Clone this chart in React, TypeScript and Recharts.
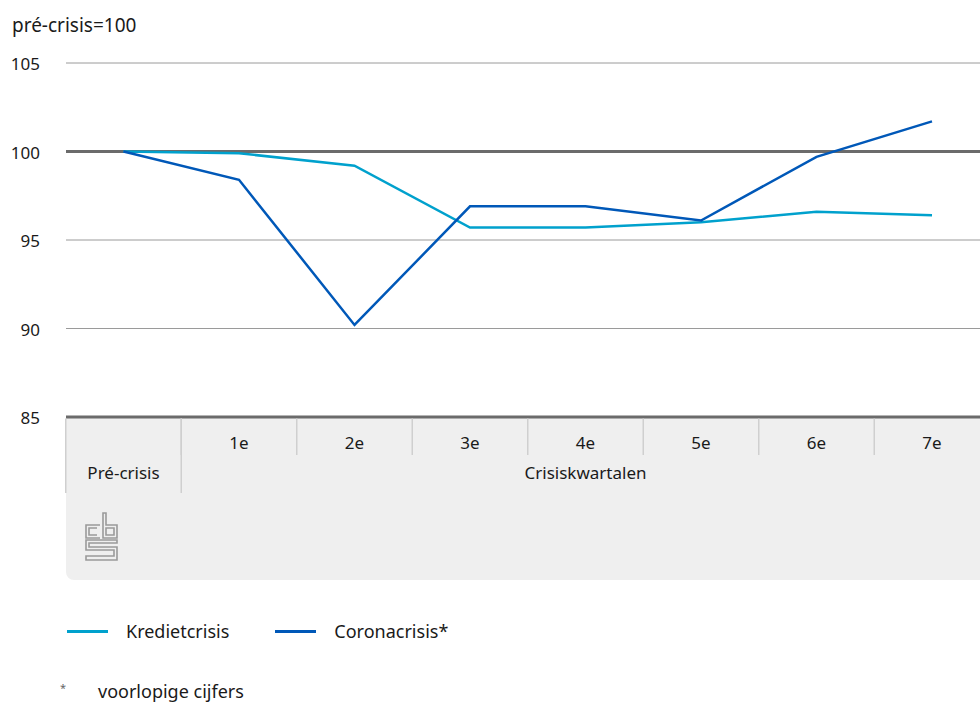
import { LineChart, Line, XAxis, YAxis, CartesianGrid, ReferenceLine } from 'recharts';

const categories = ['Pré-crisis', '1e', '2e', '3e', '4e', '5e', '6e', '7e'];
const groupLabels = ['', 'Crisiskwartalen', 'Crisiskwartalen', 'Crisiskwartalen', 'Crisiskwartalen', 'Crisiskwartalen', 'Crisiskwartalen', 'Crisiskwartalen'];
const kredietcrisis = [100, 99.9, 99.2, 95.7, 95.7, 96.0, 96.6, 96.4];
const coronacrisis = [100, 98.4, 90.2, 96.9, 96.9, 96.1, 99.7, 101.7];
const yTicks = [85, 90, 95, 100, 105];

const seriesNames = ['Kredietcrisis', 'Coronacrisis*'];
const seriesColors = ['#00a1cd', '#0058b8'];

const data = categories.map((c, i) => ({
  name: c,
  group: groupLabels[i],
  krediet: kredietcrisis[i],
  corona: coronacrisis[i],
}));

const FONT = '"Noto Sans", sans-serif';
const TEXT = '#1a1a1a';
const HALF_BAND = 57.75;

function XTick({ x, y, payload, index }: any) {
  const i = index ?? payload.index;
  const group = groupLabels[i];
  const groupIdx = groupLabels.map((g, k) => (g === group ? k : -1)).filter((k) => k >= 0);
  const isGroupMid = group && groupIdx[Math.floor(groupIdx.length / 2)] === i;
  const left = x - HALF_BAND;
  return (
    <g>
      <line x1={left} x2={left} y1={y + 1.5} y2={y + (group ? 38 : 76)} stroke="#cfcfcf" strokeWidth={1.5} />
      {i === 0 && <line x1={x + HALF_BAND} x2={x + HALF_BAND} y1={y + 1.5} y2={y + 76} stroke="#cfcfcf" strokeWidth={1.5} />}
      <text x={x} y={group ? y + 32 : y + 62} textAnchor="middle" fontSize={17} fill={TEXT} fontFamily={FONT}>
        {payload.value}
      </text>
      {isGroupMid && (
        <text x={x} y={y + 62} textAnchor="middle" fontSize={17} fill={TEXT} fontFamily={FONT}>
          {group}
        </text>
      )}
    </g>
  );
}

function YTick({ y, payload }: any) {
  return (
    <text x={40} y={y + 7} textAnchor="end" fontSize={17} fill={TEXT} fontFamily={FONT}>
      {payload.value}
    </text>
  );
}

function CbsLogo() {
  return (
    <svg width={34} height={50} viewBox="0 0 34 50" style={{ position: 'absolute', left: 19, top: 95 }}>
      <g fill="none" stroke="#9a9a9a" strokeWidth={1.6}>
        <path d="M15 13 H1 V26 H15 M12 16 H4 V23 H12" />
        <path d="M18 1 V26 H32 V13 H21 V1 Z M21 16 H29 V23 H21 Z" />
        <path d="M32 28 H1 V38 H29 V44 H1 V48 H32 V35 H4 V31 H32 Z" />
      </g>
    </svg>
  );
}

export default function App() {
  return (
    <div style={{ position: 'absolute', left: 0, top: 0, width: 980, height: 704, overflow: 'hidden', background: '#fff', fontFamily: FONT, color: TEXT }}>
      <div style={{ position: 'absolute', left: 12, top: 12, fontSize: 19 }}>pré-crisis=100</div>

      <div style={{ position: 'absolute', left: 66, top: 417, width: 930, height: 163, background: '#efefef', borderBottomLeftRadius: 8 }}>
        <CbsLogo />
      </div>

      <div style={{ position: 'absolute', left: 0, top: 0 }}>
        <LineChart width={980} height={704} data={data} margin={{ top: 63, right: 0, left: 0, bottom: 0 }}>
          <CartesianGrid vertical={false} stroke="#9a9a9a" strokeWidth={1} />
          <XAxis
            dataKey="name"
            interval={0}
            padding={{ left: 57.5, right: 48 }}
            axisLine={{ stroke: '#6b6b6b', strokeWidth: 3 }}
            tickLine={false}
            tickSize={0}
            tickMargin={0}
            height={287}
            tick={<XTick />}
          />
          <YAxis
            domain={[85, 105]}
            ticks={yTicks}
            width={66}
            axisLine={false}
            tickLine={false}
            tick={<YTick />}
          />
          <ReferenceLine y={100} stroke="#6b6b6b" strokeWidth={3} />
          <Line dataKey="krediet" name={seriesNames[0]} stroke={seriesColors[0]} strokeWidth={2.5} dot={false} type="linear" isAnimationActive={false} />
          <Line dataKey="corona" name={seriesNames[1]} stroke={seriesColors[1]} strokeWidth={2.5} dot={false} type="linear" isAnimationActive={false} />
        </LineChart>
      </div>

      <div style={{ position: 'absolute', left: 67, top: 619, display: 'flex', alignItems: 'center', fontSize: 18 }}>
        {seriesNames.map((n, i) => (
          <div key={n} style={{ display: 'flex', alignItems: 'center', marginRight: 46 }}>
            <span style={{ width: 41, height: 3, background: seriesColors[i], marginRight: 18 }} />
            <span>{n}</span>
          </div>
        ))}
      </div>

      <div style={{ position: 'absolute', left: 60, top: 680, fontSize: 11, color: '#666' }}>*</div>
      <div style={{ position: 'absolute', left: 98, top: 680, fontSize: 18, lineHeight: '22px' }}>voorlopige cijfers</div>
    </div>
  );
}
